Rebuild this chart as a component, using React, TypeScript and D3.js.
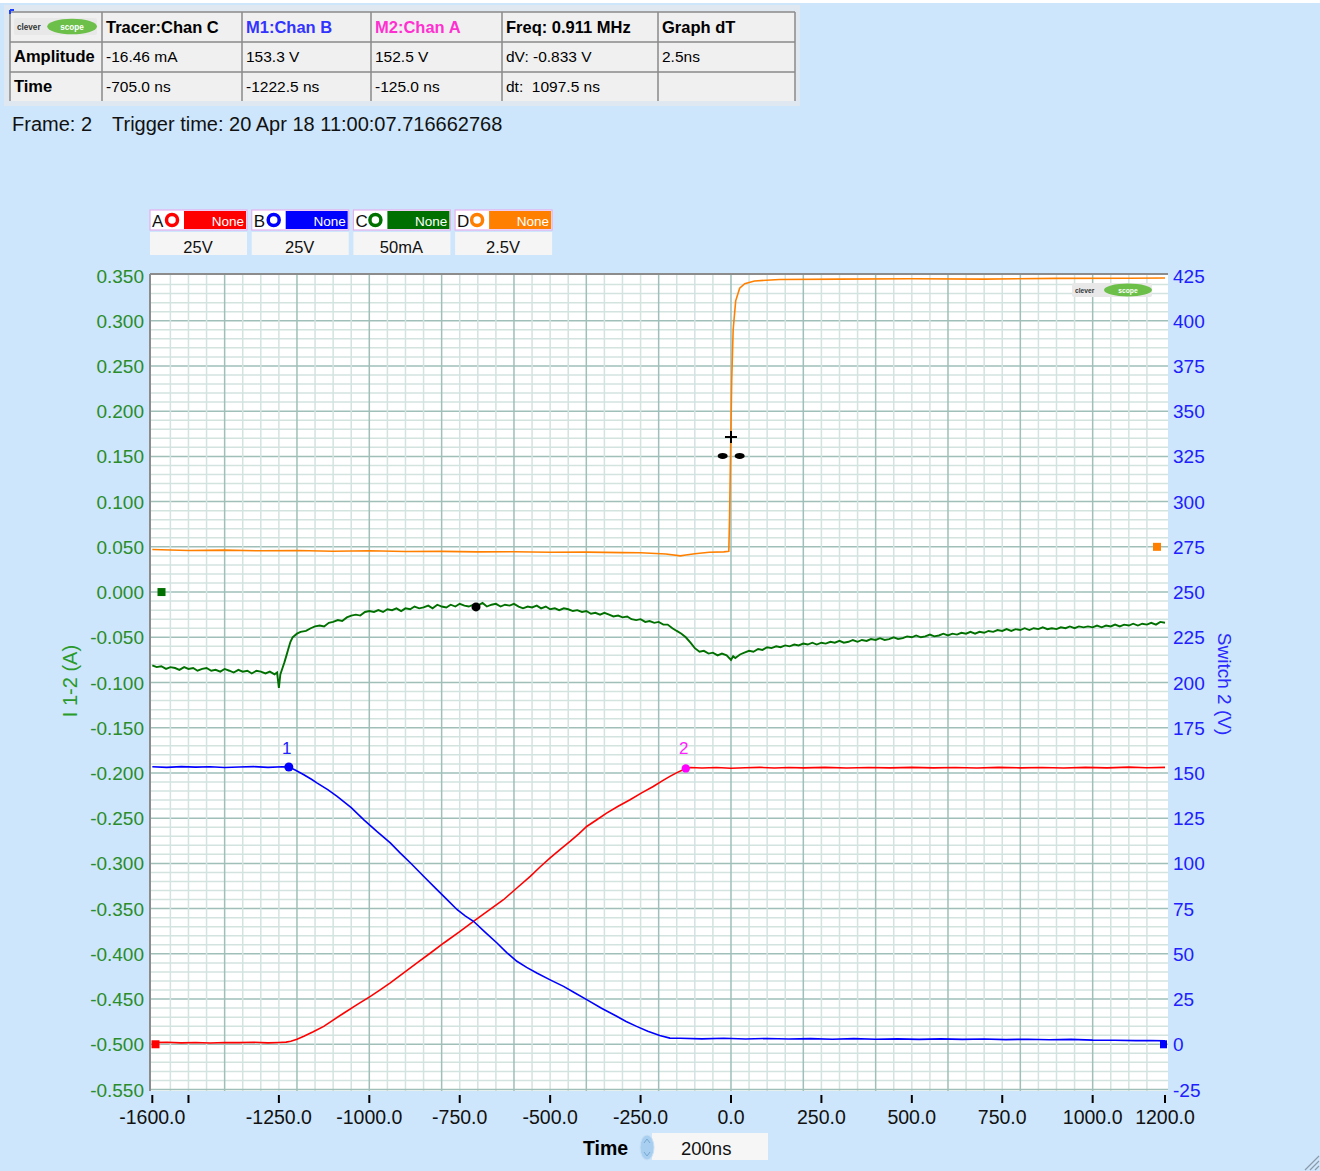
import React from "react";
import * as d3 from "d3";

// ---------- axis ticks ----------
const xTickValues = [-1600, -1500, -1250, -1000, -750, -500, -250, 0, 250, 500, 750, 1000, 1200];
const xTickLabels = ["-1600.0", "", "-1250.0", "-1000.0", "-750.0", "-500.0", "-250.0", "0.0", "250.0", "500.0", "750.0", "1000.0", "1200.0"];
const leftTickValues = [0.35, 0.3, 0.25, 0.2, 0.15, 0.1, 0.05, 0, -0.05, -0.1, -0.15, -0.2, -0.25, -0.3, -0.35, -0.4, -0.45, -0.5, -0.55];
const leftTickLabels = ["0.350", "0.300", "0.250", "0.200", "0.150", "0.100", "0.050", "0.000", "-0.050", "-0.100", "-0.150", "-0.200", "-0.250", "-0.300", "-0.350", "-0.400", "-0.450", "-0.500", "-0.550"];
const rightTickValues = [425, 400, 375, 350, 325, 300, 275, 250, 225, 200, 175, 150, 125, 100, 75, 50, 25, 0, -25];

// ---------- channel A (red, V) ----------
const chanA: [number, number][] = [
  [-1600, 0.9], [-1560, 1.1], [-1520, 0.8], [-1480, 1.0], [-1440, 0.7], [-1400, 1.0], [-1360, 0.9], [-1320, 1.1],
  [-1280, 0.8], [-1250, 1.0], [-1230, 1.2], [-1217, 1.7], [-1200, 2.8], [-1181, 4.4], [-1155, 6.9], [-1126, 9.9],
  [-1100, 13.4], [-1070, 17.3], [-1035, 21.8], [-997, 26.5], [-970, 30.1], [-942, 33.9], [-905, 39.5], [-868, 45.0],
  [-830, 50.6], [-794, 56.0], [-752, 62.0], [-712, 68.0], [-670, 74.0], [-629, 79.9], [-592, 86.4], [-555, 92.8],
  [-528, 98.0], [-500, 103.0], [-472, 107.8], [-445, 112.2], [-420, 116.5], [-399, 120.4], [-372, 124.0], [-344, 127.8],
  [-312, 131.6], [-279, 135.2], [-247, 139.0], [-215, 142.5], [-190, 145.6], [-169, 148.1], [-148, 150.3], [-128, 152.2],
  [-112, 153.0], [-80, 152.7], [-40, 153.0], [0, 152.6], [40, 152.9], [80, 153.1], [120, 152.7], [160, 153.0],
  [200, 152.8], [260, 153.1], [320, 152.7], [380, 153.0], [440, 152.8], [500, 153.1], [560, 152.8], [620, 153.0],
  [680, 152.7], [740, 153.1], [800, 152.8], [860, 153.0], [920, 152.7], [980, 153.1], [1040, 152.8], [1100, 153.2],
  [1150, 152.9], [1200, 153.1],
];

// ---------- channel B (blue, V) ----------
const chanB: [number, number][] = [
  [-1600, 153.4], [-1560, 153.1], [-1520, 153.5], [-1480, 153.2], [-1440, 153.4], [-1400, 153.0], [-1360, 153.3],
  [-1320, 153.5], [-1280, 153.1], [-1240, 153.4], [-1222, 153.3], [-1205, 151.6], [-1181, 149.0], [-1160, 146.5],
  [-1144, 144.4], [-1115, 140.8], [-1089, 137.0], [-1050, 130.8], [-1015, 124.1], [-980, 117.8], [-942, 111.3],
  [-915, 105.8], [-886, 100.2], [-850, 92.9], [-813, 85.5], [-785, 80.0], [-757, 74.4], [-735, 71.0], [-712, 68.0],
  [-680, 62.0], [-647, 56.0], [-620, 50.7], [-592, 45.9], [-565, 42.5], [-537, 39.4], [-500, 35.6], [-463, 32.0],
  [-430, 28.2], [-399, 24.7], [-358, 19.9], [-316, 15.5], [-290, 12.6], [-261, 9.9], [-230, 7.2], [-197, 4.8],
  [-169, 3.4], [-140, 3.3], [-80, 3.0], [-20, 3.3], [40, 2.9], [100, 3.2], [160, 2.9], [220, 3.1], [280, 2.8],
  [340, 3.1], [400, 2.8], [460, 3.0], [520, 2.7], [580, 3.0], [640, 2.7], [700, 2.9], [760, 2.6], [820, 2.8],
  [880, 2.5], [940, 2.7], [1000, 2.3], [1060, 2.2], [1120, 2.0], [1160, 2.1], [1200, 1.9],
];

// ---------- channel C (green, A) ----------
const chanC: [number, number][] = [
  [-1600, -0.081], [-1588, -0.083], [-1575, -0.082], [-1562, -0.085], [-1550, -0.083], [-1537, -0.084], [-1525, -0.086],
  [-1512, -0.083], [-1500, -0.085], [-1487, -0.084], [-1475, -0.087], [-1462, -0.085], [-1450, -0.084], [-1437, -0.087],
  [-1425, -0.086], [-1412, -0.088], [-1400, -0.085], [-1387, -0.087], [-1375, -0.089], [-1362, -0.086], [-1350, -0.088],
  [-1337, -0.087], [-1325, -0.090], [-1312, -0.087], [-1300, -0.088], [-1287, -0.090], [-1275, -0.088], [-1262, -0.091],
  [-1255, -0.089], [-1250, -0.106], [-1246, -0.091], [-1240, -0.084], [-1235, -0.078], [-1229, -0.070], [-1224, -0.063],
  [-1218, -0.055], [-1212, -0.050], [-1200, -0.046], [-1190, -0.044], [-1175, -0.043], [-1162, -0.040], [-1150, -0.038],
  [-1137, -0.037], [-1125, -0.038], [-1112, -0.034], [-1100, -0.033], [-1087, -0.031], [-1075, -0.032], [-1062, -0.028],
  [-1050, -0.026], [-1037, -0.025], [-1025, -0.026], [-1012, -0.022], [-1000, -0.021], [-987, -0.022], [-975, -0.020],
  [-962, -0.022], [-950, -0.019], [-937, -0.020], [-925, -0.018], [-912, -0.021], [-900, -0.018], [-887, -0.019],
  [-875, -0.016], [-862, -0.018], [-850, -0.017], [-837, -0.015], [-825, -0.018], [-812, -0.014], [-800, -0.016],
  [-787, -0.017], [-775, -0.014], [-762, -0.016], [-750, -0.013], [-737, -0.015], [-725, -0.016], [-712, -0.014],
  [-700, -0.015], [-687, -0.012], [-675, -0.016], [-662, -0.014], [-650, -0.013], [-637, -0.016], [-625, -0.014],
  [-612, -0.015], [-600, -0.013], [-587, -0.016], [-575, -0.018], [-562, -0.016], [-550, -0.017], [-537, -0.015],
  [-525, -0.018], [-512, -0.016], [-500, -0.019], [-487, -0.018], [-475, -0.020], [-462, -0.018], [-450, -0.019],
  [-437, -0.021], [-425, -0.020], [-412, -0.022], [-400, -0.021], [-387, -0.024], [-375, -0.023], [-362, -0.025],
  [-350, -0.023], [-337, -0.025], [-325, -0.027], [-312, -0.026], [-300, -0.028], [-287, -0.027], [-275, -0.030],
  [-262, -0.031], [-250, -0.030], [-237, -0.033], [-225, -0.032], [-212, -0.034], [-200, -0.033], [-187, -0.036],
  [-175, -0.036], [-162, -0.040], [-150, -0.043], [-137, -0.046], [-125, -0.050], [-112, -0.056], [-100, -0.062],
  [-87, -0.066], [-75, -0.065], [-62, -0.068], [-50, -0.067], [-37, -0.070], [-25, -0.068], [-12, -0.070],
  [0, -0.075], [6, -0.071], [12, -0.073], [25, -0.069], [37, -0.067], [50, -0.065], [62, -0.066], [75, -0.063],
  [87, -0.064], [100, -0.061], [112, -0.062], [125, -0.060], [137, -0.061], [150, -0.059], [162, -0.060], [175, -0.058],
  [187, -0.059], [200, -0.057], [212, -0.058], [225, -0.056], [237, -0.058], [250, -0.056], [262, -0.057], [275, -0.055],
  [287, -0.056], [300, -0.054], [312, -0.056], [325, -0.055], [337, -0.053], [350, -0.055], [362, -0.053], [375, -0.054],
  [387, -0.052], [400, -0.053], [412, -0.051], [425, -0.053], [437, -0.052], [450, -0.050], [462, -0.052], [475, -0.051],
  [487, -0.049], [500, -0.050], [512, -0.048], [525, -0.050], [537, -0.049], [550, -0.047], [562, -0.049], [575, -0.048],
  [587, -0.046], [600, -0.048], [612, -0.046], [625, -0.047], [637, -0.045], [650, -0.046], [662, -0.044], [675, -0.046],
  [687, -0.044], [700, -0.045], [712, -0.043], [725, -0.044], [737, -0.042], [750, -0.043], [762, -0.041], [775, -0.043],
  [787, -0.041], [800, -0.042], [812, -0.040], [825, -0.042], [837, -0.040], [850, -0.041], [862, -0.039], [875, -0.041],
  [887, -0.040], [900, -0.041], [912, -0.039], [925, -0.040], [937, -0.038], [950, -0.040], [962, -0.038], [975, -0.039],
  [987, -0.038], [1000, -0.039], [1012, -0.037], [1025, -0.039], [1037, -0.037], [1050, -0.038], [1062, -0.036],
  [1075, -0.038], [1087, -0.036], [1100, -0.037], [1112, -0.035], [1125, -0.037], [1137, -0.035], [1150, -0.036],
  [1162, -0.034], [1175, -0.036], [1187, -0.033], [1200, -0.034],
];

// ---------- channel D (orange, V, 2.5 V/div) ----------
const chanD: [number, number][] = [
  [-1600, -0.15], [-1500, -0.2], [-1400, -0.18], [-1300, -0.22], [-1200, -0.2], [-1100, -0.24], [-1000, -0.22],
  [-900, -0.26], [-800, -0.25], [-700, -0.28], [-600, -0.27], [-500, -0.3], [-400, -0.29], [-300, -0.32],
  [-250, -0.33], [-180, -0.4], [-140, -0.5], [-125, -0.45], [-100, -0.38], [-60, -0.3], [-20, -0.28], [-6, -0.25],
  [-4, 1.5], [-1, 5.4], [2, 9.2], [6, 12.0], [13, 13.6], [24, 14.3], [38, 14.55], [65, 14.7], [134, 14.78],
  [300, 14.8], [500, 14.82], [700, 14.8], [900, 14.84], [1100, 14.85], [1200, 14.86],
];

// ---------- markers ----------
const marker1 = { t: -1222.5, v: 153.3, label: "1" };
const marker2 = { t: -125.0, v: 152.5, label: "2" };
const tracer = { t: -705.0, v: -0.01646 };

// ---------- table / legend text ----------
const tableHeader = ["Tracer:Chan C", "M1:Chan B", "M2:Chan A", "Freq: 0.911 MHz", "Graph dT"];
const tableHeaderColors = ["#000000", "#3333ff", "#ff30d0", "#000000", "#000000"];
const tableAmplitude = ["Amplitude", "-16.46 mA", "153.3 V", "152.5 V", "dV: -0.833 V", "2.5ns"];
const tableTime = ["Time", "-705.0 ns", "-1222.5 ns", "-125.0 ns", "dt:  1097.5 ns", ""];
const legendNames = ["A", "B", "C", "D"];
const legendColors = ["#ff0000", "#0000ff", "#007000", "#ff8000"];
const legendScales = ["25V", "25V", "50mA", "2.5V"];

const FONT = "'Liberation Sans', Arial, sans-serif";

function Logo({ x, y, w, h }: { x: number; y: number; w: number; h: number }) {
  return (
    <g>
      <rect x={x} y={y} width={w} height={h} rx={2} fill="#e8e8e8" />
      <text x={x + 3} y={y + h * 0.68} fontSize={h * 0.48} fontWeight="bold" fill="#333" fontFamily={FONT}>clever</text>
      <ellipse cx={x + w * 0.7} cy={y + h / 2} rx={w * 0.3} ry={h * 0.46} fill="#6cc04a" />
      <text x={x + w * 0.7} y={y + h * 0.68} fontSize={h * 0.48} fontWeight="bold" fill="#ffffff" textAnchor="middle" fontFamily={FONT}>scope</text>
    </g>
  );
}

export default function App() {
  const x = d3.scaleLinear().domain([-1600, 1200]).range([152.3, 1165]);
  const yL = d3.scaleLinear().domain([-0.55, 0.35]).range([1089.5, 275.5]);
  const yR = d3.scaleLinear().domain([-25, 425]).range([1089.5, 275.5]);
  const yD = d3.scaleLinear().domain([-30, 15]).range([1089.5, 275.5]);

  const lineR = d3.line<[number, number]>().x((d) => x(d[0])).y((d) => yR(d[1]));
  const lineL = d3.line<[number, number]>().x((d) => x(d[0])).y((d) => yL(d[1]));
  const lineD = d3.line<[number, number]>().x((d) => x(d[0])).y((d) => yD(d[1]));

  const plotL = 150, plotR = 1168, plotT = 274, plotB = 1091;

  const vGrid = d3.range(-1550, 1200, 50);
  const hGrid = d3.range(-54, 35);

  const colEdges = [10, 102, 242, 371, 502, 658, 795];
  const rowEdges = [12, 42, 72, 101];
  const rowBase = [33, 62, 92];

  return (
    <div style={{ position: "absolute", left: 0, top: 0, width: 1320, height: 1171 }}>
      <svg width={1320} height={1171} style={{ display: "block" }} fontFamily={FONT}>
        <rect x={0} y={0} width={1320} height={1171} fill="#ffffff" />
        <rect x={0} y={3} width={1320} height={1168} fill="#cde6fb" />

        {/* measurement table */}
        <rect x={4} y={5} width={796} height={101} fill="#dfe8f0" />
        <rect x={colEdges[0]} y={rowEdges[0]} width={colEdges[6] - colEdges[0]} height={rowEdges[3] - rowEdges[0]} fill="#f0f0f0" />
        {colEdges.map((cx, i) => (
          <line key={"tc" + i} x1={cx} x2={cx} y1={rowEdges[0]} y2={rowEdges[3]} stroke="#8a8a8a" strokeWidth={1.5} />
        ))}
        {rowEdges.slice(0, 3).map((ry, i) => (
          <line key={"tr" + i} x1={colEdges[0]} x2={colEdges[6]} y1={ry} y2={ry} stroke="#8a8a8a" strokeWidth={1.5} />
        ))}
        <path d="M10,10 L14,10 M10,10 L10,14" stroke="#2040ff" strokeWidth={2} />
        <Logo x={14} y={18} w={83} h={17} />
        {tableHeader.map((s, i) => (
          <text key={"th" + i} x={colEdges[i + 1] + 4} y={rowBase[0]} fontSize={16.5} fontWeight="bold" fill={tableHeaderColors[i]}>{s}</text>
        ))}
        {tableAmplitude.map((s, i) => (
          <text key={"ta" + i} x={colEdges[i] + 4} y={rowBase[1]} fontSize={i === 0 ? 16.5 : 15.5} fontWeight={i === 0 ? "bold" : "normal"} fill="#000" style={{ whiteSpace: "pre" }}>{s}</text>
        ))}
        {tableTime.map((s, i) => (
          <text key={"tt" + i} x={colEdges[i] + 4} y={rowBase[2]} fontSize={i === 0 ? 16.5 : 15.5} fontWeight={i === 0 ? "bold" : "normal"} fill="#000" style={{ whiteSpace: "pre" }}>{s}</text>
        ))}

        <text x={12} y={130.5} fontSize={20} fill="#111">Frame: 2</text>
        <text x={112} y={130.5} fontSize={20} fill="#111">Trigger time: 20 Apr 18 11:00:07.716662768</text>

        {/* channel legend */}
        {legendNames.map((n, i) => {
          const bx = 150 + i * 101.7;
          return (
            <g key={"lg" + i}>
              <rect x={bx} y={210} width={97} height={20} fill="#ffffff" stroke="#e6b0ee" strokeWidth={1.2} />
              <text x={bx + 2} y={227} fontSize={17} fill="#111">{n}</text>
              <circle cx={bx + 22} cy={220} r={5.5} fill="#ffffff" stroke={legendColors[i]} strokeWidth={3.5} />
              <rect x={bx + 34} y={211} width={62} height={18} fill={legendColors[i]} />
              <text x={bx + 94} y={226} fontSize={13.5} fill="#ffffff" textAnchor="end">None</text>
              <rect x={bx} y={232} width={97} height={23} fill="#f5f5f5" />
              <text x={bx + 48} y={253} fontSize={16.5} fill="#111" textAnchor="middle">{legendScales[i]}</text>
            </g>
          );
        })}

        {/* plot area */}
        <rect x={plotL} y={plotT} width={plotR - plotL} height={plotB - plotT} fill="#ffffff" />
        {hGrid.map((k) => (
          <line key={"hm" + k} x1={plotL} x2={plotR} y1={yL(k / 100)} y2={yL(k / 100)}
            stroke={k % 5 === 0 ? "#9fbfb8" : "#d3e3e0"} strokeWidth={1.5} />
        ))}
        {vGrid.map((t) => (
          <line key={"vm" + t} x1={x(t)} x2={x(t)} y1={plotT} y2={plotB}
            stroke={t % 200 === 0 ? "#9fbfb8" : "#d3e3e0"} strokeWidth={1.5} />
        ))}
        <line x1={plotL} x2={plotR} y1={yL(-0.55)} y2={yL(-0.55)} stroke="#9fbfb8" strokeWidth={1.5} />
        <line x1={plotL} x2={plotR} y1={plotT} y2={plotT} stroke="#8c8c8c" strokeWidth={2} />
        <line x1={plotL} x2={plotL} y1={plotT} y2={plotB} stroke="#8c8c8c" strokeWidth={2} />

        <Logo x={1072} y={283} w={80} h={14} />

        {/* traces */}
        <path d={lineD(chanD) || ""} fill="none" stroke="#ff8000" strokeWidth={1.6} />
        <path d={lineL(chanC) || ""} fill="none" stroke="#007000" strokeWidth={1.9} />
        <path d={lineR(chanA) || ""} fill="none" stroke="#ff0000" strokeWidth={1.6} />
        <path d={lineR(chanB) || ""} fill="none" stroke="#0000ff" strokeWidth={1.6} />

        {/* channel zero-reference markers */}
        <rect x={151.5} y={yR(0) - 4} width={8} height={8} fill="#ff0000" />
        <rect x={157.5} y={yL(0) - 4} width={8} height={8} fill="#007000" />
        <rect x={1153} y={yD(0) - 4} width={8} height={8} fill="#ff8000" />
        <rect x={1160} y={yR(0) - 4} width={7} height={8} fill="#0000ff" />

        {/* cursors */}
        <circle cx={x(marker1.t)} cy={yR(marker1.v)} r={4.5} fill="#0000ff" />
        <text x={x(marker1.t) - 2} y={yR(marker1.v) - 13} fontSize={17} fill="#2020ff" textAnchor="middle">{marker1.label}</text>
        <circle cx={x(marker2.t)} cy={yR(marker2.v)} r={4.2} fill="#ff00ff" />
        <text x={x(marker2.t) - 2} y={yR(marker2.v) - 14} fontSize={17} fill="#ff20ff" textAnchor="middle">{marker2.label}</text>
        <circle cx={x(tracer.t)} cy={yL(tracer.v)} r={4.5} fill="#000000" />

        {/* freq cursor glyphs */}
        <path d={`M${x(0) - 6},${yL(0.1715)} L${x(0) + 6},${yL(0.1715)} M${x(0)},${yL(0.1715) - 6} L${x(0)},${yL(0.1715) + 6}`} stroke="#000" strokeWidth={2} />
        <ellipse cx={x(-23)} cy={yL(0.1505)} rx={5} ry={3} fill="#000" />
        <ellipse cx={x(24)} cy={yL(0.1505)} rx={5} ry={3} fill="#000" />

        {/* left axis */}
        {leftTickValues.map((v, i) => (
          <text key={"yl" + i} x={144} y={yL(v) + 7} fontSize={19} fill="#2a8c2a" textAnchor="end">{leftTickLabels[i]}</text>
        ))}
        <text transform={`translate(77,681) rotate(-90)`} fontSize={20} fill="#2a9a2a" textAnchor="middle">I 1-2 (A)</text>

        {/* right axis */}
        {rightTickValues.map((v, i) => (
          <text key={"yr" + i} x={1173} y={yR(v) + 7} fontSize={19} fill="#2020ff">{String(v)}</text>
        ))}
        <text transform={`translate(1218,684) rotate(90)`} fontSize={19} fill="#2a2aff" textAnchor="middle">Switch 2 (V)</text>

        {/* bottom axis */}
        {xTickValues.map((t, i) => (
          <g key={"xt" + i}>
            <line x1={x(t)} x2={x(t)} y1={1095} y2={1103} stroke="#000" strokeWidth={2} />
            {xTickLabels[i] && (
              <text x={x(t)} y={1124} fontSize={19.5} fill="#111" textAnchor="middle">{xTickLabels[i]}</text>
            )}
          </g>
        ))}

        {/* time base */}
        <text x={583} y={1155} fontSize={19.5} fontWeight="bold" fill="#000">Time</text>
        <rect x={652} y={1133} width={116} height={27} fill="#f6f6f6" />
        <ellipse cx={647} cy={1147.5} rx={7} ry={12.5} fill="#a9cff0" stroke="#c8e0f5" />
        <path d="M644,1143 L647,1139 L650,1143 M644,1152 L647,1156 L650,1152" stroke="#7aa8d0" fill="none" strokeWidth={1} />
        <text x={681} y={1155} fontSize={18.5} fill="#111">200ns</text>

        {/* resize grip */}
        <path d="M1305,1170 L1319,1156 M1310,1170 L1319,1161 M1315,1170 L1319,1166" stroke="#8a9aaa" strokeWidth={1.2} />
      </svg>
    </div>
  );
}
